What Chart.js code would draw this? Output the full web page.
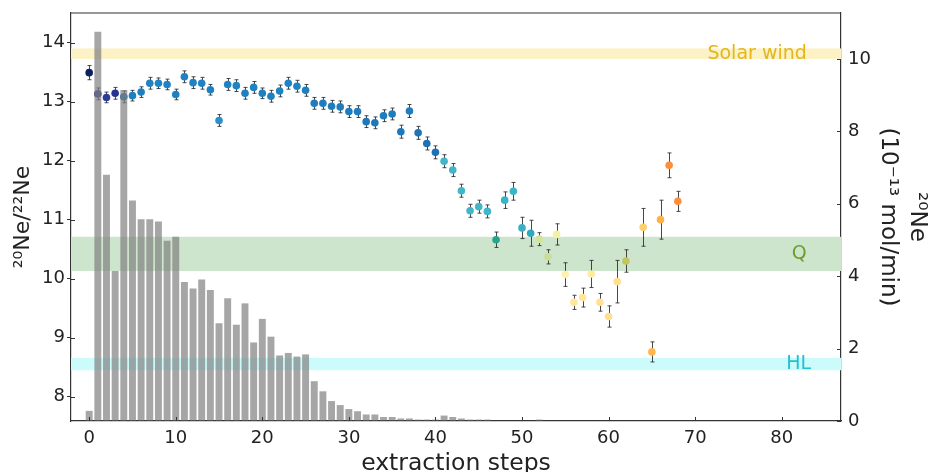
<!DOCTYPE html>
<html>
<head>
<meta charset="utf-8">
<script src="https://cdn.jsdelivr.net/npm/chart.js@4/dist/chart.umd.min.js"></script>
<style>
  html, body { margin: 0; padding: 0; background: #fff; }
  #wrap { width: 931px; height: 472px; position: relative; }
</style>
</head>
<body>
<div id="wrap"><canvas id="neChart"></canvas></div>
<script>
// 20Ne/22Ne ratio per extraction step (step 63 has no ratio)
const ratioSteps = [
  0, 1, 2, 3, 4, 5, 6, 7, 8, 9, 10, 11, 12, 13, 14, 15, 16, 17, 18, 19,
  20, 21, 22, 23, 24, 25, 26, 27, 28, 29, 30, 31, 32, 33, 34, 35, 36, 37, 38, 39,
  40, 41, 42, 43, 44, 45, 46, 47, 48, 49, 50, 51, 52, 53, 54, 55, 56, 57, 58, 59,
  60, 61, 62, 64, 65, 66, 67, 68
];
const ratioValues = [
  13.49, 13.13, 13.07, 13.14, 13.08, 13.10, 13.16, 13.31, 13.31, 13.29,
  13.12, 13.42, 13.32, 13.31, 13.20, 12.68, 13.29, 13.27, 13.14, 13.24,
  13.14, 13.09, 13.18, 13.31, 13.26, 13.19, 12.97, 12.97, 12.92, 12.91,
  12.83, 12.83, 12.66, 12.64, 12.76, 12.79, 12.49, 12.84, 12.47, 12.29,
  12.14, 11.99, 11.84, 11.49, 11.15, 11.22, 11.14, 10.66, 11.33, 11.48,
  10.86, 10.77, 10.67, 10.37, 10.75, 10.07, 9.60, 9.68, 10.08, 9.60,
  9.36, 9.95, 10.30, 10.87, 8.76, 11.00, 11.92, 11.31
];
const ratioErrors = [
  0.12, 0.10, 0.09, 0.10, 0.10, 0.09, 0.09, 0.10, 0.09, 0.09,
  0.09, 0.10, 0.10, 0.10, 0.09, 0.10, 0.10, 0.10, 0.10, 0.10,
  0.09, 0.10, 0.10, 0.10, 0.10, 0.10, 0.10, 0.10, 0.10, 0.10,
  0.10, 0.10, 0.10, 0.10, 0.10, 0.10, 0.11, 0.11, 0.11, 0.11,
  0.11, 0.11, 0.11, 0.11, 0.11, 0.11, 0.11, 0.13, 0.14, 0.15,
  0.18, 0.22, 0.11, 0.12, 0.18, 0.20, 0.12, 0.16, 0.23, 0.15,
  0.18, 0.36, 0.19, 0.32, 0.17, 0.33, 0.21, 0.17
];
const ratioColors = [
  '#0c1f5e', '#253494', '#2a3c9c', '#253494', '#1f6fb2', '#1f80c1', '#1f80c1', '#1f83c3', '#1f83c3', '#1f83c3',
  '#1f80c1', '#1f83c3', '#1f83c3', '#1f83c3', '#1f80c1', '#2a8fca', '#1f83c3', '#1f83c3', '#1f80c1', '#1f83c3',
  '#1f80c1', '#1f80c1', '#1f83c3', '#1f83c3', '#1f83c3', '#1f80c1', '#1f7dbf', '#1f7dbf', '#1f7dbf', '#1f7dbf',
  '#1f7dbf', '#1f7dbf', '#1d78bb', '#1d78bb', '#1f7dbf', '#1f7dbf', '#1d78bb', '#1f7dbf', '#1d75b8', '#1d72b5',
  '#1d72b5', '#41b6c8', '#41b6c8', '#41b6c8', '#41b6c8', '#41b6c8', '#41b6c8', '#2aa38e', '#3ab4c8', '#3ab4c8',
  '#3ab0c6', '#30a8c0', '#d2e49a', '#c9df96', '#f3f2a4', '#fff0b0', '#ffe69a', '#ffe69a', '#ffeaa2', '#ffe294',
  '#ffdf8e', '#ffe08f', '#c3c462', '#fed16a', '#feb84e', '#feb04c', '#fd8f3c', '#fd8f3c'
];

// 20Ne release per step, 10^-13 mol/min
const releaseSteps = [
  0, 1, 2, 3, 4, 5, 6, 7, 8, 9, 10, 11, 12, 13, 14, 15, 16, 17, 18, 19,
  20, 21, 22, 23, 24, 25, 26, 27, 28, 29, 30, 31, 32, 33, 34, 35, 36, 37, 38, 39,
  40, 41, 42, 43, 44, 45, 46, 47, 48, 49, 50, 51, 52
];
const releaseValues = [
  0.28, 10.75, 6.80, 4.14, 9.14, 6.09, 5.57, 5.57, 5.51, 4.98,
  5.09, 3.84, 3.66, 3.91, 3.62, 2.70, 3.39, 2.66, 3.25, 2.17,
  2.82, 2.33, 1.81, 1.88, 1.78, 1.84, 1.10, 0.82, 0.55, 0.44,
  0.33, 0.27, 0.18, 0.18, 0.11, 0.11, 0.07, 0.07, 0.04, 0.04,
  0.04, 0.15, 0.11, 0.07, 0.04, 0.04, 0.04, 0, 0, 0,
  0, 0, 0.04
];

// reference component bands (20Ne/22Ne)
const bandNames = ['Solar wind', 'Q', 'HL'];
const bandLow = [13.72, 10.13, 8.45];
const bandHigh = [13.90, 10.71, 8.66];
const bandLabelX = [82.9, 82.9, 83.4];

const xTicks = [0, 10, 20, 30, 40, 50, 60, 70, 80];
const ratioTicks = [8, 9, 10, 11, 12, 13, 14];
const releaseTicks = [0, 2, 4, 6, 8, 10];

const bandFill = ['#fcf2c6', '#cde5cc', '#ccfbfb'];
const bandText = ['#e4b61c', '#6c9e2c', '#22c0d4'];
const axisColor = '#333';
const textColor = '#222';
const FONT = '"DejaVu Sans", sans-serif';

const ratioPoints = ratioSteps.map((s, i) => ({ x: s, y: ratioValues[i] }));
const releaseBars = releaseSteps.map((s, i) => ({ x: s, y: releaseValues[i] }));

// bands and their labels, under all datasets
const bandsPlugin = {
  id: 'bands',
  beforeDatasetsDraw(chart) {
    const { ctx, chartArea: a, scales: { x, y } } = chart;
    ctx.save();
    bandNames.forEach((name, i) => {
      const top = y.getPixelForValue(bandHigh[i]);
      const bot = y.getPixelForValue(bandLow[i]);
      ctx.fillStyle = bandFill[i];
      ctx.fillRect(a.left, top, a.right - a.left, bot - top);
    });
    ctx.font = '19px ' + FONT;
    ctx.textAlign = 'right';
    ctx.textBaseline = 'middle';
    bandNames.forEach((name, i) => {
      ctx.fillStyle = bandText[i];
      ctx.fillText(name, x.getPixelForValue(bandLabelX[i]),
        y.getPixelForValue((bandLow[i] + bandHigh[i]) / 2));
    });
    ctx.restore();
  }
};

// error bars drawn just before the ratio markers
const errorBarPlugin = {
  id: 'errorBars',
  beforeDatasetDraw(chart, args) {
    if (args.index !== 1) return;
    const { ctx, scales: { x, y } } = chart;
    ctx.save();
    ctx.strokeStyle = 'rgba(40,40,40,0.85)';
    ctx.lineWidth = 1;
    ratioSteps.forEach((s, i) => {
      const px = Math.round(x.getPixelForValue(s)) + 0.5;
      const y1 = y.getPixelForValue(ratioValues[i] + ratioErrors[i]);
      const y2 = y.getPixelForValue(ratioValues[i] - ratioErrors[i]);
      ctx.beginPath();
      ctx.moveTo(px, y1); ctx.lineTo(px, y2);
      ctx.moveTo(px - 2, y1); ctx.lineTo(px + 2, y1);
      ctx.moveTo(px - 2, y2); ctx.lineTo(px + 2, y2);
      ctx.stroke();
    });
    ctx.restore();
  }
};

// inward tick marks and the top frame line
const frameTicksPlugin = {
  id: 'frameTicks',
  afterDraw(chart) {
    const { ctx, chartArea: a, scales: { x, y, y2 } } = chart;
    ctx.save();
    ctx.strokeStyle = axisColor;
    ctx.lineWidth = 1.2;
    ctx.beginPath();
    ctx.moveTo(a.left, a.top); ctx.lineTo(a.right, a.top);
    ctx.stroke();
    ctx.lineWidth = 1;
    ctx.beginPath();
    xTicks.forEach(t => {
      const px = Math.round(x.getPixelForValue(t)) + 0.5;
      ctx.moveTo(px, a.bottom); ctx.lineTo(px, a.bottom - 4);
    });
    ratioTicks.forEach(t => {
      const py = Math.round(y.getPixelForValue(t)) + 0.5;
      ctx.moveTo(a.left, py); ctx.lineTo(a.left + 4, py);
    });
    releaseTicks.forEach(t => {
      const py = Math.round(y2.getPixelForValue(t)) + 0.5;
      ctx.moveTo(a.right, py); ctx.lineTo(a.right - 4, py);
    });
    ctx.stroke();
    ctx.restore();
  }
};

// fixed axis sizes so the plot area sits where the reference has it
function fixWidth(w) {
  return s => { s.width = w; s.paddingTop = 0; s.paddingBottom = 0; };
}

Chart.defaults.font.family = FONT;
Chart.defaults.color = textColor;

new Chart(document.getElementById('neChart'), {
  type: 'scatter',
  data: {
    datasets: [
      {
        type: 'bar',
        label: '20Ne release',
        data: releaseBars,
        yAxisID: 'y2',
        backgroundColor: 'rgba(128,128,128,0.7)',
        borderWidth: 0,
        barPercentage: 0.8,
        categoryPercentage: 1,
        order: 0
      },
      {
        type: 'scatter',
        label: '20Ne/22Ne',
        data: ratioPoints,
        yAxisID: 'y',
        pointBackgroundColor: ratioColors,
        pointBorderWidth: 0,
        pointRadius: 3.8,
        order: 1
      }
    ]
  },
  options: {
    responsive: true,
    maintainAspectRatio: false,
    animation: false,
    layout: { padding: { top: 13, left: 0, right: 0, bottom: 0 } },
    plugins: {
      legend: { display: false },
      tooltip: { enabled: false }
    },
    scales: {
      x: {
        type: 'linear',
        min: -2.1,
        max: 86.85,
        offset: false,
        afterBuildTicks: s => { s.ticks = xTicks.map(v => ({ value: v })); },
        afterFit: s => { s.height = 51; s.paddingLeft = 0; s.paddingRight = 0; },
        grid: { display: true, drawOnChartArea: false, drawTicks: false, offset: false },
        border: { display: true, color: axisColor, width: 1.2 },
        ticks: { font: { size: 18 }, color: textColor, padding: 7, maxRotation: 0 },
        title: {
          display: true, text: 'extraction steps', color: textColor,
          font: { size: 23.5 }, padding: { top: 0, bottom: -6 }
        }
      },
      y: {
        type: 'linear',
        position: 'left',
        min: 7.59,
        max: 14.5,
        afterBuildTicks: s => { s.ticks = ratioTicks.map(v => ({ value: v })); },
        afterFit: fixWidth(71),
        grid: { display: true, drawOnChartArea: false, drawTicks: true, tickLength: 4, color: axisColor },
        border: { display: true, color: axisColor, width: 1.2 },
        ticks: { font: { size: 18 }, color: textColor, padding: 2 },
        title: {
          display: true, text: '²⁰Ne/²²Ne', color: textColor,
          font: { size: 22 }, padding: { top: 10, bottom: 0 }
        }
      },
      y2: {
        type: 'linear',
        position: 'right',
        min: 0,
        max: 11.27,
        afterBuildTicks: s => { s.ticks = releaseTicks.map(v => ({ value: v })); },
        afterFit: fixWidth(90),
        grid: { display: true, drawOnChartArea: false, drawTicks: false },
        border: { display: true, color: axisColor, width: 1.2 },
        ticks: { font: { size: 18 }, color: textColor, padding: 7 },
        title: {
          display: true, text: ['²⁰Ne', '(10⁻¹³ mol/min)'], color: textColor,
          font: { size: 23, lineHeight: 1.25 }, padding: { top: 0, bottom: 0 }
        }
      }
    }
  },
  plugins: [bandsPlugin, errorBarPlugin, frameTicksPlugin]
});
</script>
</body>
</html>
